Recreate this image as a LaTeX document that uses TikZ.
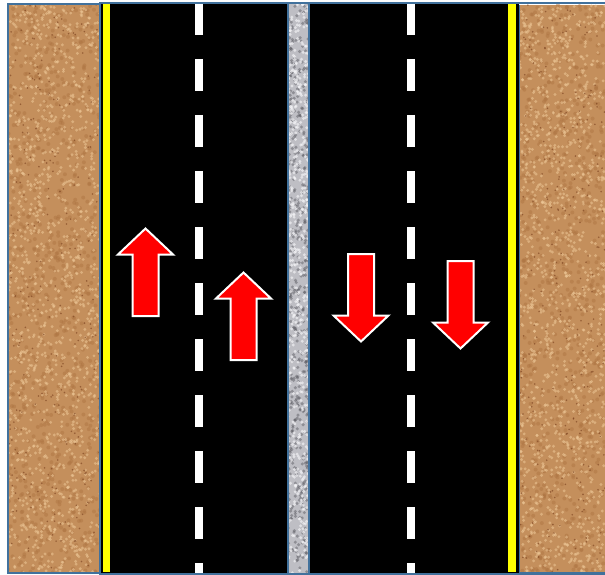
\documentclass[tikz,border=0pt]{standalone}
\begin{document}
\definecolor{dirt}{RGB}{196,143,92}
\definecolor{dirtlight}{RGB}{238,200,152}
\definecolor{dirtmid}{RGB}{175,118,68}
\definecolor{dirtdark}{RGB}{120,62,28}
\definecolor{granite}{RGB}{190,190,196}
\definecolor{granitedark}{RGB}{95,95,102}
\definecolor{granitelight}{RGB}{245,245,248}
\definecolor{edgeblue}{RGB}{65,113,156}
\definecolor{lineyellow}{RGB}{255,255,0}
\definecolor{arrowred}{RGB}{255,0,0}
\begin{tikzpicture}[x=1pt,y=-1pt,
  border/.style={draw=edgeblue,line width=1.6pt},
  roadfill/.style={fill=black},
  yellowline/.style={fill=lineyellow},
  dashline/.style={draw=white,line width=8pt,dash pattern=on 32pt off 24pt},
  arrowstyle/.style={fill=arrowred,draw=white,line width=2pt,line join=miter},
  uparrow/.pic={\path[arrowstyle] (0,1.5) -- (27.5,27.5) -- (13,27.5) -- (13,89) -- (-13,89) -- (-13,27.5) -- (-27.5,27.5) -- cycle;}
]
\useasboundingbox (0,0) rectangle (605,575);
\fill[white] (0,0) rectangle (605,575);
\pgfmathsetseed{7}
% left dirt
\begin{scope}
\clip (8,4) rectangle (100,573);
\fill[dirt] (8,4) rectangle (100,573);
\foreach \i in {1,...,700} {\fill[dirtmid,opacity=0.5] ({8+92*rnd},{4+569*rnd}) circle (2pt);}
\foreach \i in {1,...,1300} {\fill[dirtlight,opacity=0.55] ({8+92*rnd},{4+569*rnd}) circle (1.6pt);}
\foreach \i in {1,...,260} {\fill[dirtdark,opacity=0.6] ({8+92*rnd},{4+569*rnd}) circle (0.9pt);}
\end{scope}
\draw[border] (8,4) rectangle (100,573);
% right dirt
\begin{scope}
\clip (519,5) rectangle (605,573);
\fill[dirt] (519,5) rectangle (605,573);
\foreach \i in {1,...,700} {\fill[dirtmid,opacity=0.5] ({519+86*rnd},{5+568*rnd}) circle (2pt);}
\foreach \i in {1,...,1300} {\fill[dirtlight,opacity=0.55] ({519+86*rnd},{5+568*rnd}) circle (1.6pt);}
\foreach \i in {1,...,260} {\fill[dirtdark,opacity=0.6] ({519+86*rnd},{5+568*rnd}) circle (0.9pt);}
\end{scope}
\draw[border] (519,5) -- (519,573) -- (606,573);
% roads
\fill[roadfill] (100,3) rectangle (288,574);
\fill[roadfill] (309,3) rectangle (519,574);
% median
\begin{scope}
\clip (288,3) rectangle (309,574);
\fill[granite] (288,3) rectangle (309,574);
\foreach \i in {1,...,450} {\fill[granitedark,opacity=0.5] ({288+21*rnd},{3+571*rnd}) circle (1.7pt);}
\foreach \i in {1,...,500} {\fill[granitelight,opacity=0.65] ({288+21*rnd},{3+571*rnd}) circle (1.6pt);}
\end{scope}
% yellow edge lines
\fill[yellowline] (103,4) rectangle (110,572);
\fill[yellowline] (508,4) rectangle (516,572);
% lane dashes
\draw[dashline] (199,3) -- (199,573);
\draw[dashline] (411,3) -- (411,573);
% borders
\draw[border] (100,3) rectangle (288,574);
\draw[border] (288,3) rectangle (309,574);
\draw[border] (309,3) -- (605,3);
\draw[border] (309,3) -- (309,574) -- (605,574);
% arrows
\pic at (145.5,227) {uparrow};
\pic at (243.5,271) {uparrow};
\pic[rotate=180] at (361,343) {uparrow};
\pic[rotate=180] at (460.5,350) {uparrow};
\end{tikzpicture}
\end{document}
